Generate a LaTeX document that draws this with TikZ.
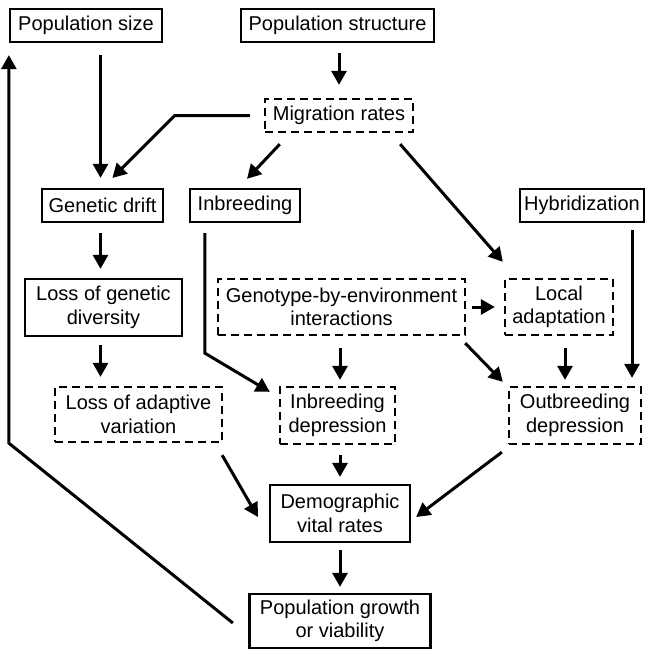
\documentclass[tikz,border=0pt]{standalone}
\usepackage{fontspec}
\setmainfont{Liberation Sans}
\usetikzlibrary{arrows.meta}

\begin{document}
\begin{tikzpicture}
[x=1pt,y=-1pt,%
  boxDecorate/.style={shape=rectangle,draw,line width=2.3pt,inner sep=0pt,align=center,
    font=\fontsize{20}{23.5}\selectfont},
  dashDecorate/.style={boxDecorate,dash pattern=on 8pt off 5pt},
  lineDecorate/.style={line width=3pt,-{Triangle[length=14pt,width=15pt]}}]
\useasboundingbox (0,0) rectangle (649,653);
%% solid boxes
\foreach \nodename/\x/\y/\w/\h/\txt in {
  popsize/86/25.5/152/33/{Population size},
  popstruct/337.5/25.5/193/33/{Population structure},
  drift/102.5/205.5/121/33/{Genetic drift},
  inbreed/245/205.5/110/33/{Inbreeding},
  hybrid/582/205.5/124/33/{Hybridization},
  lossdiv/103.5/307.5/157/57/{Loss of genetic\\diversity},
  demo/340/513.5/140/57/{Demographic\\vital rates},
  growth/340/621/181/54/{Population growth\\or viability}}
{
  \node (\nodename) at (\x,\y) [boxDecorate,minimum width=\w pt,minimum height=\h pt] {\txt};
}
%% dashed boxes
\foreach \nodename/\x/\y/\w/\h/\txt in {
  migration/339/115.5/148/33/{Migration rates},
  gxe/341.5/307/247/56/{Genotype-by-environment\\interactions},
  local/559/307/108/56/{Local\\adaptation},
  lossadapt/138.5/414.5/167/55/{Loss of adaptive\\variation},
  inbdep/337.5/415.5/115/57/{Inbreeding\\depression},
  outdep/575/415.5/132/57/{Outbreeding\\depression}}
{
  \node (\nodename) at (\x,\y) [dashDecorate,minimum width=\w pt,minimum height=\h pt] {\txt};
}
%% straight down arrows
\draw[lineDecorate,shorten <=12pt,shorten >=10pt] ([xshift=-2pt]drift.north |- popsize.south) -- ([xshift=-2pt]drift.north);
\draw[lineDecorate,shorten <=10pt,shorten >=13pt] (migration.north |- popstruct.south) -- (migration.north);
\draw[lineDecorate,shorten <=10pt,shorten >=9pt] ([xshift=-2pt]drift.south) -- ([xshift=-2pt]drift.south |- lossdiv.north);
\draw[lineDecorate,shorten <=8pt,shorten >=9pt] ([xshift=-3pt]lossdiv.south) -- ([xshift=-3pt]lossdiv.south |- lossadapt.north);
\draw[lineDecorate,shorten <=12pt,shorten >=6pt] ([xshift=2.5pt]inbdep.north |- gxe.south) -- ([xshift=2.5pt]inbdep.north);
\draw[lineDecorate,shorten <=12pt,shorten >=6pt] ([xshift=6pt]local.south) -- ([xshift=6pt]local.south |- outdep.north);
\draw[lineDecorate,shorten <=7pt,shorten >=8pt] ([xshift=50pt]hybrid.south) -- ([xshift=50pt]hybrid.south |- outdep.north);
\draw[lineDecorate,shorten <=10pt,shorten >=7pt] ([xshift=2.5pt]inbdep.south) -- ([xshift=2.5pt]inbdep.south |- demo.north);
\path (gxe.east) edge[lineDecorate,shorten <=6pt,shorten >=9pt] (local.west)
      (demo.south) edge[lineDecorate,shorten <=7pt,shorten >=6pt] (growth.north);
%% slanted and bent arrows
\draw[lineDecorate,shorten <=14pt,shorten >=14pt] (migration.west) -- ++(-89,0) -- (drift.north);
\draw[lineDecorate] ([xshift=16pt,yshift=-11pt]migration.south west) -- ([xshift=2pt,yshift=9pt]inbreed.north);
\draw[lineDecorate] ([xshift=-14pt,yshift=-11pt]migration.south east) -- ([xshift=-1pt,yshift=16pt]local.north west);
\draw[lineDecorate,shorten <=10pt] ([xshift=16pt]inbreed.south west) -- ++(0,130) -- ([xshift=-9pt,yshift=-6pt]inbdep.north west);
\draw[lineDecorate] ([xshift=-1pt,yshift=-7pt]gxe.south east) -- ([xshift=-5pt,yshift=4pt]outdep.north west);
\draw[lineDecorate] ([xshift=-1pt,yshift=-12pt]lossadapt.south east) -- ([xshift=-11pt,yshift=-3.5pt]demo.west);
\draw[lineDecorate] ([xshift=-6pt,yshift=-7pt]outdep.south west) -- ([xshift=5pt,yshift=-3.5pt]demo.east);
%% feedback to population size
\draw[lineDecorate,shorten >=12pt] ([xshift=-15.5pt,yshift=-2pt]growth.west) -- (popsize.south west |- lossadapt.south) -- (popsize.south west);
\end{tikzpicture}
\end{document}
